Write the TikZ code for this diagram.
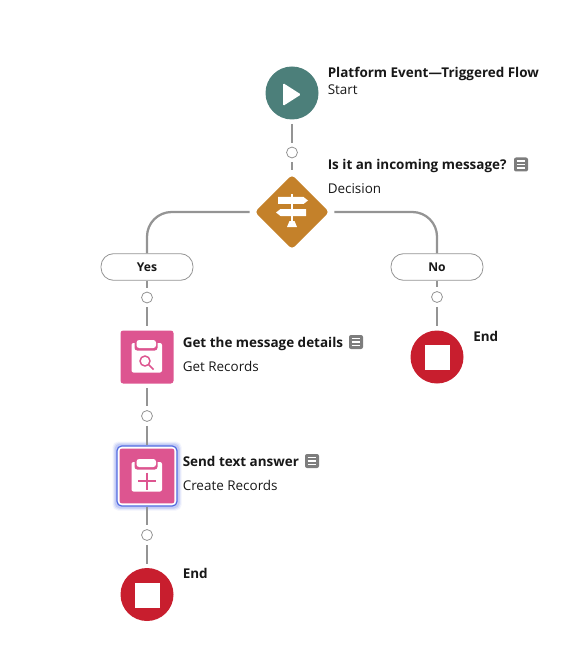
\documentclass[tikz,border=0pt]{standalone}
\usepackage{fontspec}
\setmainfont{Open Sans}
\usetikzlibrary{shapes.geometric}

\definecolor{flowteal}{RGB}{76,127,122}
\definecolor{floworange}{RGB}{196,129,42}
\definecolor{flowpink}{RGB}{221,85,144}
\definecolor{flowred}{RGB}{200,30,46}
\definecolor{flowwire}{RGB}{148,148,148}
\definecolor{flowtext}{RGB}{24,24,24}
\definecolor{flownote}{RGB}{125,125,125}
\definecolor{flowblue}{RGB}{80,105,225}

\tikzset{
    round/.style={circle,fill=#1,minimum size=39.75pt,inner sep=0pt},
    tile/.style={rectangle,rounded corners=2pt,fill=flowpink,minimum size=39.75pt,inner sep=0pt},
    fork/.style={diamond,rounded corners=3pt,fill=floworange,minimum width=56pt,minimum height=56pt,inner sep=0pt},
    gap/.style={circle,draw=flowwire,fill=white,line width=.6pt,minimum size=8.2pt,inner sep=0pt},
    pill/.style={rectangle,rounded corners=9.5pt,draw=flowwire,fill=white,line width=.6pt,
        minimum width=69pt,minimum height=20pt,inner sep=0pt,font=\fontsize{9.1pt}{10pt}\selectfont\bfseries,text=flowtext},
    wire/.style={draw=flowwire,line width=1.7pt,shorten <=3pt,shorten >=3pt},
    title/.style={anchor=base west,inner sep=0pt,font=\fontsize{10.1pt}{12pt}\selectfont\bfseries,text=flowtext},
    kind/.style={anchor=base west,inner sep=0pt,font=\fontsize{10.1pt}{12pt}\selectfont,text=flowtext},
    noteicon/.pic={
        \fill[flownote,rounded corners=1.5pt] (-7,-7) rectangle (7,7);
        \foreach \yy in {-3.6,0,3.6}
            \draw[white,line width=1.2pt] (-4.4,\yy) -- (4.4,\yy);
    },
    stopicon/.pic={\fill[white] (-12.5,-12.5) rectangle (12.5,12.5);},
    board/.pic={
        \fill[white,rounded corners=1.5pt] (-15.5,-14) rectangle (15,15.5);
        \fill[flowpink,rounded corners=2pt] (-12.5,-18.5) rectangle (10.5,-6.5);
        \fill[white,rounded corners=2pt] (-10.5,-17) rectangle (9,-9);
    }
}

\begin{document}
\begin{tikzpicture}[x=.75pt,y=-.75pt]
    \useasboundingbox (0,0) rectangle (580,652);
    % steps
    \node[round=flowteal] (start) at (292,93) {};
    \node[gap] (gapa) at (292,152.5) {};
    \node[fork] (decision) at (292,212) {};
    \node[pill] (yes) at (147,267) {Yes};
    \node[pill] (no) at (437,267) {No};
    \node[gap] (gapb) at (147,297.5) {};
    \node[gap] (gapc) at (437,297) {};
    \node[tile] (get) at (147,357) {};
    \node[round=flowred] (endb) at (437,357) {};
    \node[gap] (gapd) at (147,416) {};
    % selected step
    \foreach \ww/\oo in {69/.08,67/.12,65/.18}
        \fill[flowblue,opacity=\oo,rounded corners=4pt] (147-\ww/2,476-\ww/2) rectangle (147+\ww/2,476+\ww/2);
    \node[rectangle,rounded corners=3.5pt,draw=flowblue,line width=.9pt,fill=white,minimum size=45pt,inner sep=0pt] (create) at (147,476) {};
    \node[tile,minimum size=41.2pt] (createin) at (147,476) {};
    \node[gap] (gape) at (147,535) {};
    \node[round=flowred] (enda) at (147,594.5) {};
    % wires
    \draw[wire] (start) -- (gapa);
    \draw[wire] (gapa) -- (decision);
    \draw[wire,rounded corners=18.5pt,shorten >=0pt,shorten <=3.6pt] (decision.west) -| (yes.north);
    \draw[wire,rounded corners=18.5pt,shorten >=0pt,shorten <=3.6pt] (decision.east) -| (no.north);
    \draw[wire,shorten <=0pt] (yes) -- (gapb);
    \draw[wire,shorten <=0pt] (no) -- (gapc);
    \draw[wire] (gapb) -- (get);
    \draw[wire] (gapc) -- (endb);
    \draw[wire] (get) -- (gapd);
    \draw[wire,shorten >=0pt] (gapd) -- (create);
    \draw[wire,shorten <=0pt] (create) -- (gape);
    \draw[wire] (gape) -- (enda);
    % icons
    \fill[white,rounded corners=1pt] (283,83) -- (301,94.5) -- (283,106) -- cycle;
    \pic at (437,357) {stopicon};
    \pic at (147,595) {stopicon};
    \pic at (147,357) {board};
    \draw[flowpink,line width=1.1pt] (145,361) circle[radius=5];
    \draw[flowpink,line width=1.3pt] (148.8,364.8) -- (153.5,369.5);
    \pic at (147,476) {board};
    \draw[flowpink,line width=1.5pt] (138,481) -- (155.5,481) (146.7,472.5) -- (146.7,490);
    % signpost
    \fill[white] (290.8,194) rectangle (293.2,222);
    \fill[white] (278,197) -- (303.5,197) -- (308,200.5) -- (303.5,204) -- (278,204) -- cycle;
    \fill[white] (306,209) -- (280.5,209) -- (276,212.5) -- (280.5,216) -- (306,216) -- cycle;
    \fill[white] (289.5,221) -- (294.5,221) -- (297,227) -- (287,227) -- cycle;
    % labels
    \node[title] (starttitle) at (327.5,77.2) {Platform Event—Triggered Flow};
    \node[kind] (startkind) at (327.5,94.7) {Start};
    \node[title] (decisiontitle) at (327.5,169.7) {Is it an incoming message?};
    \node[kind] (decisionkind) at (327.5,193.7) {Decision};
    \node[title] (gettitle) at (182.5,347.2) {Get the message details};
    \node[kind] (getkind) at (182.5,371.2) {Get Records};
    \node[title] (createtitle) at (182.5,466.2) {Send text answer};
    \node[kind] (createkind) at (182.5,490.2) {Create Records};
    \node[title] (endatitle) at (182.5,578.2) {End};
    \node[title] (endbtitle) at (473,341.2) {End};
    \pic at (521,164.5) {noteicon};
    \pic at (356,342) {noteicon};
    \pic at (312,461) {noteicon};
\end{tikzpicture}
\end{document}
